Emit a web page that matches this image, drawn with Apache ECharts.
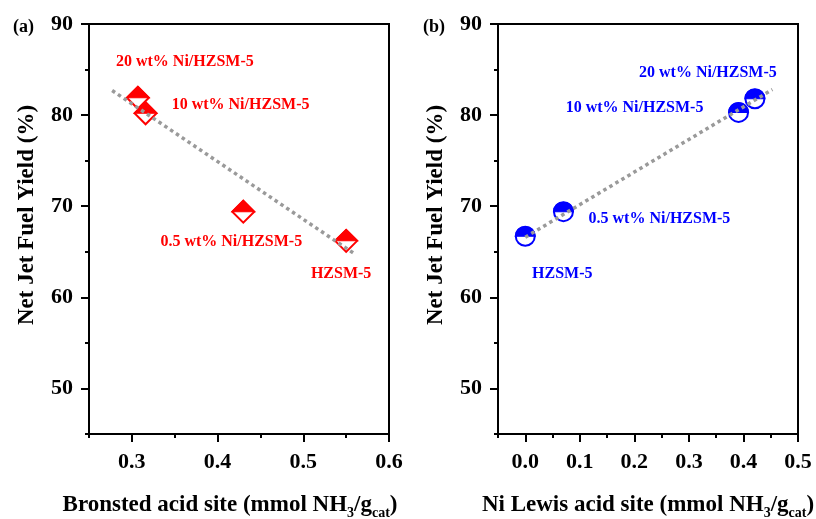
<!DOCTYPE html>
<html>
<head>
<meta charset="utf-8">
<script src="https://cdn.jsdelivr.net/npm/echarts@6/dist/echarts.min.js"></script>
<style>html,body{margin:0;padding:0;background:#fff}#c{width:816px;height:519px}</style>
</head>
<body>
<div id="c"></div>
<script>
// ---- data ----
const namesA = ['20 wt% Ni/HZSM-5', '10 wt% Ni/HZSM-5', '0.5 wt% Ni/HZSM-5', 'HZSM-5'];
const bronsted = [0.307, 0.316, 0.430, 0.550];
const yieldA = [81.9, 80.2, 69.4, 66.2];
const trendAx = [0.277, 0.561];
const trendAy = [82.7, 64.7];

const namesB = ['20 wt% Ni/HZSM-5', '10 wt% Ni/HZSM-5', '0.5 wt% Ni/HZSM-5', 'HZSM-5'];
const lewis = [0.421, 0.391, 0.070, 0.000];
const yieldB = [81.8, 80.3, 69.4, 66.7];
const trendBx = [0.000, 0.453];
const trendBy = [66.6, 82.8];

const yMajor = [50, 60, 70, 80, 90];
const yMinor = [45, 55, 65, 75, 85];
const xMajorA = [0.3, 0.4, 0.5, 0.6];
const xMinorA = [0.25, 0.35, 0.45, 0.55];
const xMajorB = [0.0, 0.1, 0.2, 0.3, 0.4, 0.5];
const xMinorB = [-0.05, 0.05, 0.15, 0.25, 0.35, 0.45];

// label offsets (pixels, layout only)
const labelOffA = [[47, -36], [95, -8], [-12, 30], [-5, 33]];
const labelOffB = [[-47, -26], [-104, -5], [96, 7], [37, 38]];

const FONT = '"Liberation Serif", "Times New Roman", serif';
const RED = '#ff0000', BLUE = '#0000ff';

const pts = (xs, ys) => xs.map((x, i) => [x, ys[i]]);

function majorX(grid, min, max, major, title, shift) {
  return {
    type: 'value', gridIndex: grid, min: min, max: max, position: 'bottom',
    name: title, nameLocation: 'middle', nameGap: 60,
    nameTextStyle: {
      padding: shift > 0 ? [0, shift, 0, 0] : [0, 0, 0, 0],
      rich: {
        m: { fontFamily: FONT, fontWeight: 'bold', fontSize: 23, color: '#000', lineHeight: 23 },
        s: { fontFamily: FONT, fontWeight: 'bold', fontSize: 14, color: '#000', lineHeight: 23, padding: [16, 0, 0, 0] }
      }
    },
    axisLine: { show: true, onZero: false, lineStyle: { color: '#000', width: 2 } },
    axisTick: { show: true, customValues: major, length: 8, lineStyle: { color: '#000', width: 2 } },
    axisLabel: { customValues: major, margin: 17, fontFamily: FONT, fontWeight: 'bold', fontSize: 22, color: '#000',
      formatter: v => Number(v).toFixed(1) },
    splitLine: { show: false }
  };
}
function minorX(grid, min, max, minor) {
  return {
    type: 'value', gridIndex: grid, min: min, max: max, position: 'bottom',
    axisLine: { show: false, onZero: false },
    axisTick: { show: true, customValues: minor, length: 4, lineStyle: { color: '#000', width: 2 } },
    axisLabel: { show: false },
    splitLine: { show: false }
  };
}
function majorY(grid) {
  return {
    type: 'value', gridIndex: grid, min: 45, max: 90, position: 'left',
    name: 'Net Jet Fuel Yield (%)', nameLocation: 'middle', nameGap: 50, nameRotate: 90,
    nameTextStyle: { fontFamily: FONT, fontWeight: 'bold', fontSize: 23, color: '#000', padding: [0, 0, 0, 28] },
    axisLine: { show: true, onZero: false, lineStyle: { color: '#000', width: 2 } },
    axisTick: { show: true, customValues: yMajor, length: 8, lineStyle: { color: '#000', width: 2 } },
    axisLabel: { customValues: yMajor, margin: 16, fontFamily: FONT, fontWeight: 'bold', fontSize: 22, color: '#000' },
    splitLine: { show: false }
  };
}
function minorY(grid) {
  return {
    type: 'value', gridIndex: grid, min: 45, max: 90, position: 'left',
    axisLine: { show: false, onZero: false },
    axisTick: { show: true, customValues: yMinor, length: 4, lineStyle: { color: '#000', width: 2 } },
    axisLabel: { show: false },
    splitLine: { show: false }
  };
}

function outlineSeries(xi, yi, xs, ys, names, offs, color, symbol, size) {
  return {
    type: 'scatter', xAxisIndex: xi, yAxisIndex: yi, z: 2,
    symbol: symbol, symbolSize: size,
    itemStyle: { color: '#fff', borderColor: color, borderWidth: 2, opacity: 1 },
    data: xs.map((x, i) => ({
      value: [x, ys[i]], name: names[i],
      label: { offset: offs[i] }
    })),
    label: {
      show: true, position: 'inside', formatter: p => p.name,
      fontFamily: FONT, fontWeight: 'bold', fontSize: 16, color: color
    },
    emphasis: { disabled: true }, silent: true
  };
}
function halfSeries(xi, yi, xs, ys, color, path, size) {
  return {
    type: 'scatter', xAxisIndex: xi, yAxisIndex: yi, z: 3,
    symbol: path, symbolSize: size, symbolOffset: [0, -size[1] / 2], symbolKeepAspect: false,
    itemStyle: { color: color, borderColor: color, borderWidth: 1.5, opacity: 1 },
    data: pts(xs, ys),
    emphasis: { disabled: true }, silent: true
  };
}
function trend(xi, yi, xs, ys) {
  return {
    type: 'line', xAxisIndex: xi, yAxisIndex: yi, z: 4,
    data: pts(xs, ys), showSymbol: false, symbol: 'none',
    lineStyle: { color: '#9a9a9a', width: 3.5, type: [3.5, 3.5], cap: 'butt' },
    emphasis: { disabled: true }, silent: true
  };
}

const TRI = 'path://M0,0L1,1L-1,1Z';
const SEMI = 'path://M-1,0A1,1,0,0,1,1,0Z';

const option = {
  animation: false,
  backgroundColor: '#fff',
  title: [
    { text: '(a)', left: 13, top: 18, padding: 0, textStyle: { fontFamily: FONT, fontWeight: 'bold', fontSize: 18, color: '#000' } },
    { text: '(b)', left: 423, top: 18, padding: 0, textStyle: { fontFamily: FONT, fontWeight: 'bold', fontSize: 18, color: '#000' } }
  ],
  grid: [
    { left: 89, top: 24, width: 300, height: 410, show: true, borderColor: '#000', borderWidth: 2, backgroundColor: 'transparent', outerBoundsMode: 'none', containLabel: false },
    { left: 498, top: 24, width: 300, height: 410, show: true, borderColor: '#000', borderWidth: 2, backgroundColor: 'transparent', outerBoundsMode: 'none', containLabel: false }
  ],
  xAxis: [
    majorX(0, 0.25, 0.6, xMajorA, '{m|Bronsted acid site (mmol NH}{s|3}{m|/g}{s|cat}{m|)}', 18),
    minorX(0, 0.25, 0.6, xMinorA),
    majorX(1, -0.05, 0.5, xMajorB, '{m|Ni Lewis acid site (mmol NH}{s|3}{m|/g}{s|cat}{m|)}', 0),
    minorX(1, -0.05, 0.5, xMinorB)
  ],
  yAxis: [majorY(0), minorY(0), majorY(1), minorY(1)],
  series: [
    outlineSeries(0, 0, bronsted, yieldA, namesA, labelOffA, RED, 'diamond', 22),
    halfSeries(0, 0, bronsted, yieldA, RED, TRI, [22, 11]),
    trend(0, 0, trendAx, trendAy),
    outlineSeries(2, 2, lewis, yieldB, namesB, labelOffB, BLUE, 'circle', 19),
    halfSeries(2, 2, lewis, yieldB, BLUE, SEMI, [19, 9.5]),
    trend(2, 2, trendBx, trendBy)
  ]
};
const chart = echarts.init(document.getElementById('c'), null, { renderer: 'canvas' });
chart.setOption(option);
</script>
</body>
</html>
